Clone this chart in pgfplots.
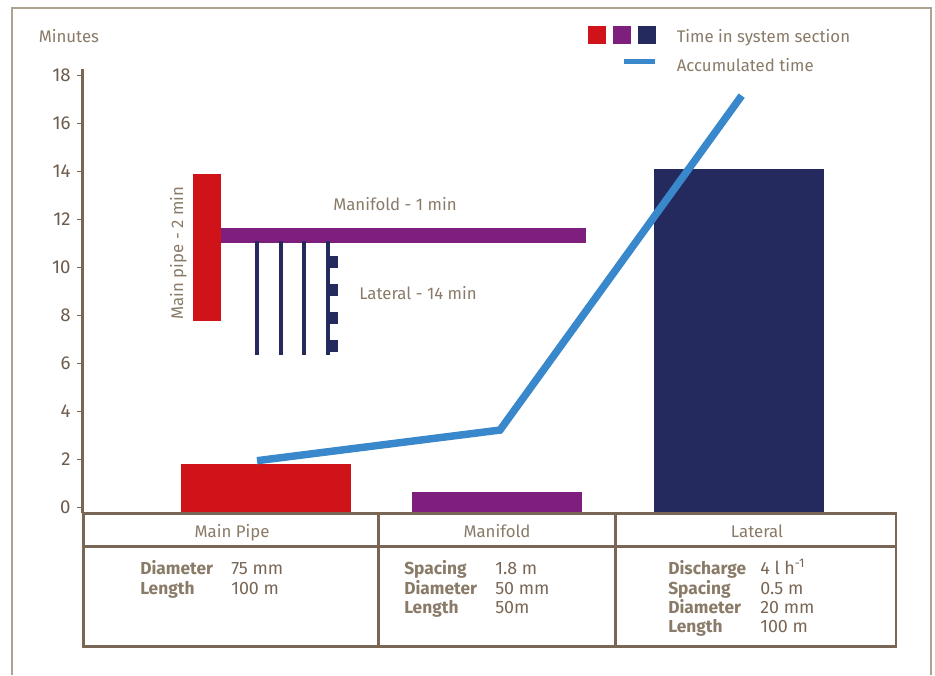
\documentclass[border=0pt]{standalone}
\usepackage{fontspec}
\setmainfont{Fira Sans}
\usepackage{pgfplots}
\pgfplotsset{compat=1.18}
\definecolor{cred}{HTML}{CF1318}
\definecolor{cpur}{HTML}{7F1F7D}
\definecolor{cnav}{HTML}{252A5E}
\definecolor{cblu}{HTML}{3888CB}
\definecolor{cbrn}{HTML}{7A6655}
\definecolor{ctxt}{HTML}{8A7B68}
\definecolor{cfrm}{HTML}{B0A090}
\begin{document}
\begin{tikzpicture}
\begin{scope}[x=0.75pt,y=-0.75pt]
\path[use as bounding box] (0,0) rectangle (935,675);
\fill[white] (0,0) rectangle (935,675);
\draw[cfrm,line width=2pt] (12,675) -- (12,8) -- (931,8) -- (931,675);
\end{scope}
\begin{axis}[
  at={(62.025pt,-384.975pt)},anchor=south west,
  scale only axis,x=0.75pt,y=18.03pt,
  xmin=82.7,xmax=896,ymin=-0.233,ymax=18.236,
  clip=false,
  axis x line=none,
  axis y line*=left,
  axis line style={cbrn,line width=1.9pt,-},
  ytick={0,2,...,18},
  tick style={cbrn,line width=0.7pt},
  major tick length=4.5pt,
  ytick align=outside,
  yticklabel style={font=\fontsize{14}{16}\selectfont,text=cbrn!90!black,/pgf/number format/assume math mode=true,xshift=-1pt},
]
% bars
\addplot[fill=cred,draw=none] coordinates {(181,-0.233)(181,1.82)(351,1.82)(351,-0.233)} --cycle;
\addplot[fill=cpur,draw=none] coordinates {(412,-0.233)(412,0.65)(582,0.65)(582,-0.233)} --cycle;
\addplot[fill=cnav,draw=none] coordinates {(654,-0.233)(654,14.07)(824,14.07)(824,-0.233)} --cycle;
% schematic
\addplot[fill=cpur,draw=none] coordinates {(220,11.63)(586,11.63)(586,11.01)(220,11.01)} --cycle;
\addplot[fill=cred,draw=none] coordinates {(193,13.88)(221,13.88)(221,7.77)(193,7.77)} --cycle;
\addplot[fill=cnav,draw=none] coordinates {(255,11.09)(259,11.09)(259,6.35)(255,6.35)} --cycle;
\addplot[fill=cnav,draw=none] coordinates {(279,11.09)(283,11.09)(283,6.35)(279,6.35)} --cycle;
\addplot[fill=cnav,draw=none] coordinates {(302,11.09)(306,11.09)(306,6.35)(302,6.35)} --cycle;
\addplot[fill=cnav,draw=none] coordinates {(326,11.09)(330,11.09)(330,6.35)(326,6.35)} --cycle;
\addplot[fill=cnav,draw=none] coordinates {(330,10.47)(338,10.47)(338,9.97)(330,9.97)} --cycle;
\addplot[fill=cnav,draw=none] coordinates {(330,9.30)(338,9.30)(338,8.80)(330,8.80)} --cycle;
\addplot[fill=cnav,draw=none] coordinates {(330,8.14)(338,8.14)(338,7.64)(330,7.64)} --cycle;
\addplot[fill=cnav,draw=none] coordinates {(330,6.98)(338,6.98)(338,6.48)(330,6.48)} --cycle;
% accumulated time
\addplot[cblu,line width=5.6pt,line join=miter] coordinates {(257,1.955)(500,3.23)(741.7,17.14)};
\end{axis}
\begin{scope}[x=0.75pt,y=-0.75pt,T/.style={anchor=base west,inner sep=0,text=ctxt,font=\fontsize{12.6}{14}\selectfont},
  B/.style={T,font=\fontsize{13}{14}\selectfont\bfseries},V/.style={T,text=cbrn,font=\fontsize{13.4}{14}\selectfont}]
% table
\draw[cbrn,line width=1.9pt] (83.5,513.5) rectangle (896,646.5);
\draw[cbrn,line width=1.9pt] (83.5,546.5) -- (896,546.5);
\draw[cbrn,line width=1.9pt] (378.5,513.5) -- (378.5,646.5);
\draw[cbrn,line width=1.9pt] (615.5,513.5) -- (615.5,646.5);
\node[T,anchor=base] at (232,537) {Main Pipe};
\node[T,anchor=base] at (497,537) {Manifold};
\node[T,anchor=base] at (757,537) {Lateral};
\node[B] at (140,574) {Diameter}; \node[V] at (231,574) {75 mm};
\node[B] at (140,594) {Length};   \node[V] at (231,594) {100 m};
\node[B] at (404,574) {Spacing};  \node[V] at (495,574) {1.8 m};
\node[B] at (404,594) {Diameter}; \node[V] at (495,594) {50 mm};
\node[B] at (404,613) {Length};   \node[V] at (495,613) {50m};
\node[B] at (668,574) {Discharge};\node[V] at (760,574) {4 l h\textsuperscript{-1}};
\node[B] at (668,594) {Spacing};  \node[V] at (760,594) {0.5 m};
\node[B] at (668,613) {Diameter}; \node[V] at (760,613) {20 mm};
\node[B] at (668,632) {Length};   \node[V] at (760,632) {100 m};
% labels
\node[T] at (38.5,42.3) {Minutes};
\node[T] at (333,210) {Manifold - 1 min};
\node[T] at (359,299) {Lateral - 14 min};
\node[T,anchor=base,rotate=90] at (183,253) {Main pipe - 2 min};
% legend
\fill[cred] (588,26) rectangle (606,44);
\fill[cpur] (613,26) rectangle (631,44);
\fill[cnav] (638,26) rectangle (656,44);
\fill[cblu] (624,59) rectangle (655,64);
\node[T] at (676.5,42.3) {Time in system section};
\node[T] at (676.5,71.3) {Accumulated time};
\end{scope}
\end{tikzpicture}
\end{document}
